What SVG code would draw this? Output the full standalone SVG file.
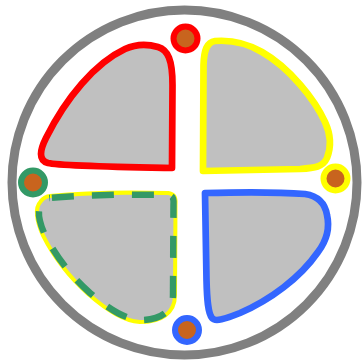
<svg xmlns="http://www.w3.org/2000/svg" width="364" height="362" viewBox="0 0 364 362">
<style>
.ring{fill:#ffffff;stroke:#808080;stroke-width:9}
.quad{fill:#c0c0c0;stroke-width:6.7;stroke-linejoin:round;stroke-linecap:round}
.pin{fill:#c8641e;stroke-width:6}
</style>
<rect width="364" height="362" fill="#ffffff"/>
<g id="ring"><circle class="ring" cx="184.5" cy="182.5" r="172.5"/></g>
<g id="q-red"><path class="quad" stroke="#ff0000" d="M172,168 L172.5,85 C172.5,60 168,50 158,47 C148,44 138,43 125,49 C95,63 66,98 46,138 C40,150 38,160 48,163 C60,166 120,167 172,168 Z"/></g>
<g id="q-yellow"><path class="quad" stroke="#ffff00" d="M203,171 L203.5,65 C204,50 207,42 215,41 C228,40 245,42 262,52 C290,68 315,100 325,122 C331,135 331,148 327,158 C323,167 315,168 300,169 Z"/></g>
<g id="q-green">
<path fill="none" stroke="#ffff00" stroke-width="8" stroke-linejoin="round" d="M50,198 C80,195 130,194 168,195 C173,196 174,198 173.5,205 L173,295 C173,312 160,320 140,320 C125,319 110,310 90,293 C70,275 55,255 45,235 C38,220 37,208 42,203 C45,199 48,198 50,198 Z"/>
<path fill="#c0c0c0" stroke="#339966" stroke-width="6.5" stroke-dasharray="22 18" stroke-dashoffset="-2" d="M50,198 C80,195 130,194 168,195 C173,196 174,198 173.5,205 L173,295 C173,312 160,320 140,320 C125,319 110,310 90,293 C70,275 55,255 45,235 C38,220 37,208 42,203 C45,199 48,198 50,198 Z"/>
</g>
<g id="q-blue"><path class="quad" stroke="#3366ff" d="M205,193 C240,192 280,192 305,194 C318,196 325,203 327,215 C330,228 327,240 318,252 C300,278 270,300 240,313 C225,319 215,322 212,318 C208,313 207,300 206.5,280 Z"/></g>
<g id="pin-red"><circle class="pin" stroke="#ff0000" cx="185.5" cy="38.5" r="12"/></g>
<g id="pin-yellow"><circle class="pin" stroke="#ffff00" cx="335.5" cy="178.5" r="12"/></g>
<g id="pin-green"><circle class="pin" stroke="#339966" cx="33" cy="182.5" r="12"/></g>
<g id="pin-blue"><circle class="pin" stroke="#3366ff" cx="187" cy="330" r="12"/></g>
<g id="connectors"></g>
</svg>
